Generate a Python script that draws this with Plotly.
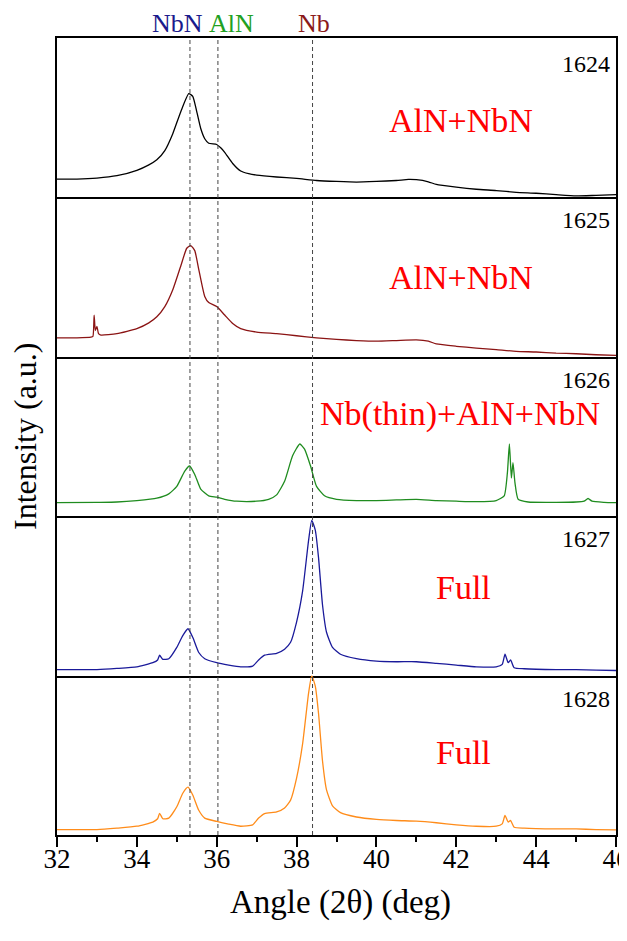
import plotly.graph_objects as go
from plotly.subplots import make_subplots

# ---------------- data (2theta in deg, intensity in arbitrary units, 0-100 per panel) -------------
x_1624 = [32.0, 32.5, 33.0, 33.5, 34.0, 34.3, 34.5, 34.7, 34.9, 35.1, 35.3, 35.4, 35.5, 35.6, 35.7, 35.8,
          36.0, 36.1, 36.2, 36.4, 36.6, 36.8, 37.0, 37.5, 38.0, 38.5, 39.0, 39.5, 40.0, 40.5, 40.8, 41.0,
          41.3, 41.5, 42.0, 42.5, 43.0, 43.5, 44.0, 44.5, 45.0, 45.5, 46.0]
y_1624 = [11.5, 11.5, 12.1, 13.6, 17.0, 20.4, 23.6, 29.4, 40.0, 53.8, 65.1, 63.4, 53.8, 43.2, 36.8, 34.0,
          33.2, 31.1, 28.3, 21.3, 16.6, 14.9, 14.0, 12.8, 11.9, 10.6, 10.0, 9.6, 10.0, 10.6, 11.3, 11.1,
          9.8, 8.1, 6.4, 5.1, 4.3, 3.2, 2.6, 1.7, 0.9, 1.3, 1.7]

x_1625 = [32.0, 32.5, 32.85, 32.9, 32.93, 32.96, 33.0, 33.04, 33.1, 33.5, 34.0, 34.3, 34.5, 34.7, 34.9,
          35.1, 35.25, 35.35, 35.45, 35.55, 35.7, 35.8, 36.0, 36.2, 36.4, 36.6, 37.0, 37.5, 38.0, 38.5,
          39.0, 39.5, 40.0, 40.5, 41.0, 41.3, 41.5, 42.0, 42.5, 43.0, 43.5, 44.0, 44.5, 45.0, 45.5, 46.0]
y_1625 = [11.9, 11.9, 12.3, 12.8, 26.2, 16.6, 19.1, 14.5, 13.6, 14.5, 17.7, 21.3, 25.1, 31.5, 42.1,
          57.0, 68.1, 69.8, 66.6, 54.9, 37.9, 34.0, 31.5, 26.2, 20.9, 17.7, 15.5, 14.5, 13.2, 11.9,
          10.9, 10.2, 9.8, 10.2, 10.6, 9.8, 8.1, 6.6, 5.5, 4.5, 3.4, 3.0, 2.3, 1.9, 1.3, 0.9]

x_1626 = [32.0, 33.0, 33.5, 34.0, 34.5, 34.8, 35.0, 35.2, 35.32, 35.45, 35.6, 35.8, 36.0, 36.2, 36.5,
          37.0, 37.3, 37.5, 37.7, 37.9, 38.08, 38.2, 38.35, 38.5, 38.7, 39.0, 39.5, 40.0, 40.5, 41.0,
          41.5, 42.0, 42.5, 43.0, 43.2, 43.28, 43.33, 43.38, 43.42, 43.47, 43.55, 43.8, 44.5, 45.0,
          45.2, 45.3, 45.4, 45.7, 46.0]
y_1626 = [8.5, 8.7, 8.9, 9.8, 11.3, 14.0, 18.7, 28.3, 31.5, 26.2, 17.0, 12.8, 11.9, 10.6, 9.4,
          9.4, 10.6, 13.4, 21.9, 37.9, 45.3, 42.1, 31.5, 18.7, 12.8, 10.6, 9.8, 9.8, 10.2, 10.6,
          9.8, 9.4, 9.1, 9.8, 12.8, 27.2, 45.3, 24.0, 33.6, 20.9, 10.6, 8.9, 8.7, 8.9,
          9.4, 11.1, 9.4, 8.7, 8.5]

x_1627 = [32.0, 33.0, 33.5, 34.0, 34.4, 34.52, 34.57, 34.65, 34.8, 35.0, 35.15, 35.28, 35.4, 35.55,
          35.7, 36.0, 36.3, 36.6, 36.9, 37.05, 37.2, 37.5, 37.7, 37.85, 38.0, 38.15, 38.3, 38.38, 38.47,
          38.55, 38.65, 38.75, 38.9, 39.1, 39.5, 40.0, 40.5, 41.0, 41.5, 42.0, 42.5, 43.0, 43.15, 43.22,
          43.3, 43.36, 43.45, 43.7, 44.5, 45.0, 45.5, 46.0]
y_1627 = [3.8, 3.8, 4.5, 5.5, 8.1, 9.8, 12.8, 10.2, 10.6, 17.7, 25.1, 29.4, 24.0, 14.5,
          10.6, 8.1, 6.6, 5.5, 6.0, 9.8, 12.8, 14.0, 16.6, 20.9, 33.6, 52.8, 84.7, 97.4, 91.1,
          74.0, 44.3, 27.2, 17.7, 13.4, 10.6, 9.1, 8.7, 8.7, 7.7, 6.6, 5.5, 5.5, 7.0, 13.4,
          8.1, 9.8, 4.9, 4.3, 3.8, 3.8, 3.4, 3.2]

x_1628 = [32.0, 33.0, 33.5, 34.0, 34.4, 34.52, 34.57, 34.65, 34.8, 35.0, 35.15, 35.28, 35.4, 35.55,
          35.7, 36.0, 36.3, 36.6, 36.9, 37.05, 37.2, 37.5, 37.7, 37.85, 38.0, 38.15, 38.3, 38.38, 38.47,
          38.55, 38.65, 38.75, 38.9, 39.1, 39.5, 40.0, 40.5, 41.0, 41.5, 42.0, 42.5, 43.0, 43.15, 43.22,
          43.3, 43.36, 43.45, 43.7, 44.5, 45.0, 45.5, 46.0]
y_1628 = [3.4, 3.4, 4.3, 5.5, 8.1, 10.2, 13.6, 10.2, 10.6, 17.7, 26.2, 30.0, 25.1, 15.5,
          10.6, 8.5, 6.8, 5.5, 6.4, 10.6, 13.4, 14.5, 17.0, 21.9, 35.7, 57.0, 88.9, 100.0, 93.2,
          76.2, 46.4, 28.3, 18.3, 14.0, 11.3, 9.8, 9.1, 8.7, 7.7, 6.4, 5.5, 5.5, 7.0, 12.3,
          8.1, 9.1, 4.9, 4.3, 3.8, 3.8, 3.4, 3.2]

sample_ids = ["1624", "1625", "1626", "1627", "1628"]
phase_labels = ["AlN+NbN", "AlN+NbN", "Nb(thin)+AlN+NbN", "Full", "Full"]
ref_names = ["NbN", "AlN", "Nb"]
ref_positions = [35.33, 36.03, 38.40]
ref_colors = ["#1a1a8c", "#22a022", "#8b1a1a"]
line_colors = ["#000000", "#8b1414", "#1f8c1f", "#1a1a9a", "#ff8c1a"]
x_ticks = [32, 34, 36, 38, 40, 42, 44, 46]

xs = [x_1624, x_1625, x_1626, x_1627, x_1628]
ys = [y_1624, y_1625, y_1626, y_1627, y_1628]

FONT = "Liberation Serif"

# page body has an 8px margin: the figure is offset by (8, 8) in the window
OFF = 8
L, R, T, B = 57, 616, 38, 835          # desired plot area in window pixels
W, H = 627, 941 - 2 * OFF

fig = make_subplots(rows=5, cols=1, shared_xaxes=True, vertical_spacing=0)

for i in range(5):
    fig.add_trace(go.Scatter(x=xs[i], y=ys[i], mode="lines",
                             line=dict(color=line_colors[i], width=1.3, shape="spline", smoothing=0.5),
                             showlegend=False, hoverinfo="skip"),
                  row=i + 1, col=1)
    fig.update_yaxes(range=[0, 100], showticklabels=False, ticks="", showgrid=False, zeroline=False,
                     showline=True, mirror=True, linewidth=2, linecolor="black",
                     row=i + 1, col=1)
    if i < 4:
        fig.update_xaxes(range=[32, 46], showticklabels=False, ticks="", showgrid=False, zeroline=False,
                         showline=True, mirror=(i == 0), linewidth=2, linecolor="black",
                         row=i + 1, col=1)

fig.update_xaxes(range=[32, 46], tickmode="array", tickvals=x_ticks, ticktext=[str(t) for t in x_ticks],
                 ticks="outside", ticklen=10, tickwidth=2, tickcolor="black",
                 minor=dict(dtick=1, tick0=32, ticks="outside", ticklen=5, tickwidth=2, tickcolor="black"),
                 tickfont=dict(family=FONT, size=27, color="black"), automargin=False,
                 ticklabeloverflow="allow", ticklabelstandoff=-11,
                 showgrid=False, zeroline=False, showline=True, mirror=False, linewidth=2, linecolor="black",
                 row=5, col=1)

def px(xp):
    return (xp - L) / (R - L)
def py(yp):
    return (B - yp) / (B - T)

# reference dashed lines
for pos in ref_positions:
    fig.add_shape(type="line", xref="x5", yref="paper", x0=pos, x1=pos, y0=0, y1=1,
                  line=dict(color="#444444", width=1, dash="4px,3px"), layer="above")

anns = []
for name, pos, col in zip(ref_names, [177, 231, 314], ref_colors):
    anns.append(dict(text=name, x=px(pos), y=py(23), xref="paper", yref="paper", showarrow=False,
                     xanchor="center", yanchor="middle", font=dict(family=FONT, size=26, color=col)))

id_y = [64, 220, 380, 539, 699]
for sid, yp in zip(sample_ids, id_y):
    anns.append(dict(text=sid, x=px(612), y=py(yp), xref="paper", yref="paper", showarrow=False,
                     xanchor="right", yanchor="middle", font=dict(family=FONT, size=24, color="black")))

lab_pos = [(461, 120), (461, 277), (460, 414), (463, 587), (463, 752)]
for lab, (xp, yp) in zip(phase_labels, lab_pos):
    anns.append(dict(text=lab, x=px(xp), y=py(yp), xref="paper", yref="paper", showarrow=False,
                     xanchor="center", yanchor="middle", font=dict(family=FONT, size=34, color="#ff0000")))

anns.append(dict(text="Intensity (a.u.)", x=px(25), y=py(436), xref="paper", yref="paper", showarrow=False,
                 textangle=-90, xanchor="center", yanchor="middle",
                 font=dict(family=FONT, size=32, color="black")))
anns.append(dict(text="Angle (2θ) (deg)", x=px(340), y=py(902), xref="paper", yref="paper", showarrow=False,
                 xanchor="center", yanchor="middle", font=dict(family=FONT, size=33, color="black")))

fig.update_layout(width=W, height=H,
                  margin=dict(l=L - OFF, r=W - (R - OFF), t=T - OFF, b=H - (B - OFF), autoexpand=False),
                  paper_bgcolor="white", plot_bgcolor="white", annotations=anns,
                  font=dict(family=FONT, color="black"))

fig.write_html("out.html")
